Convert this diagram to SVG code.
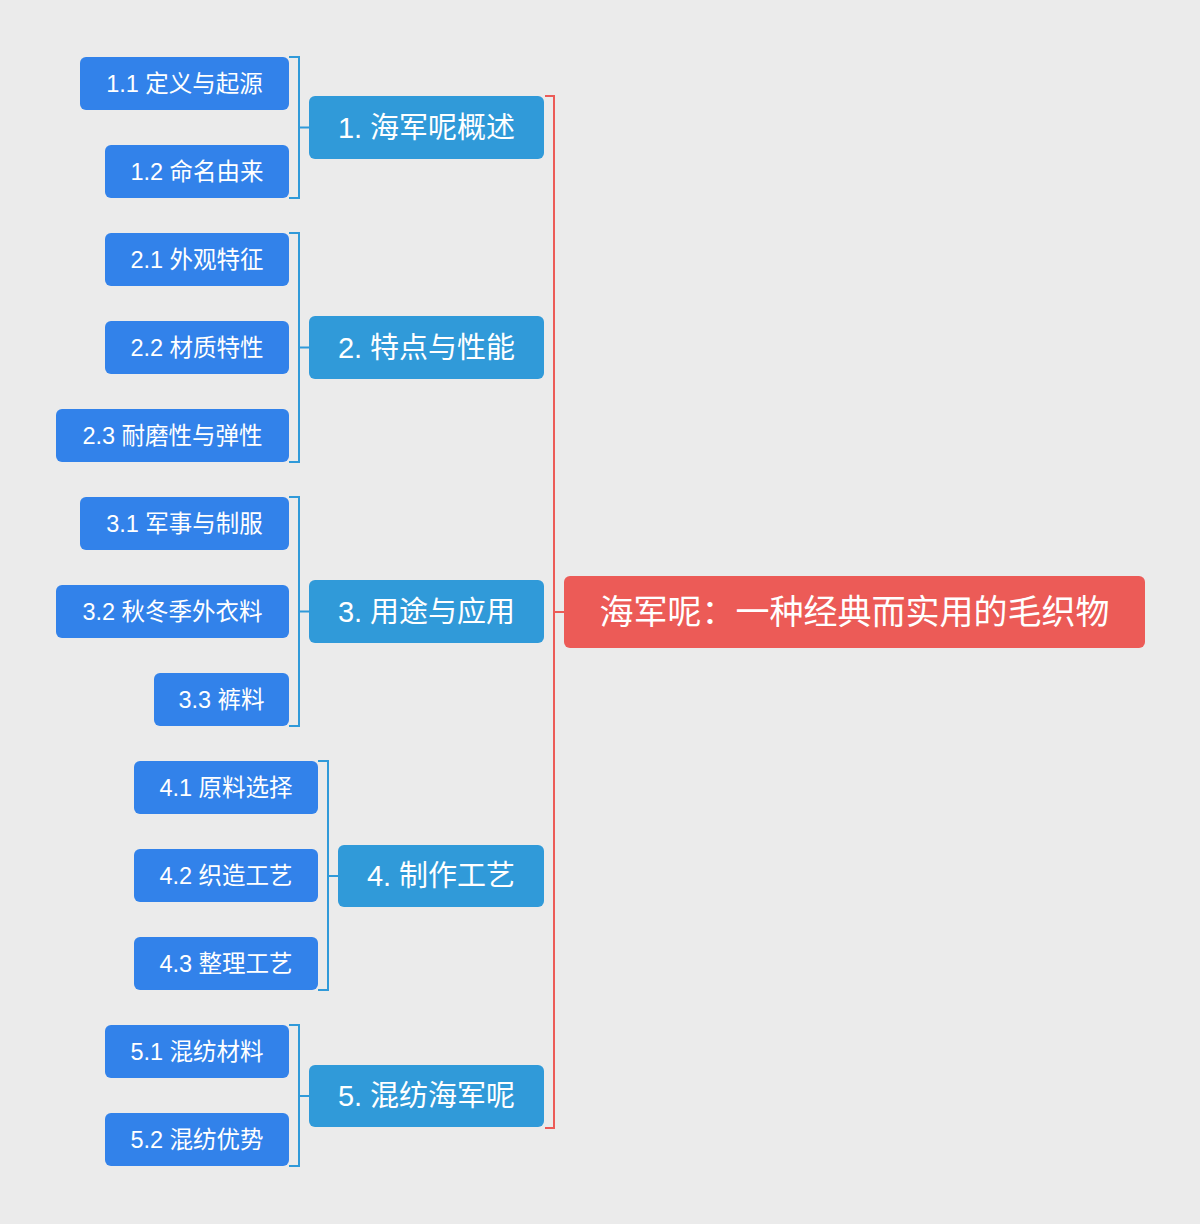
<svg xmlns="http://www.w3.org/2000/svg" width="1200" height="1224" viewBox="0 0 1200 1224">
<style>
.leaf rect{fill:#3282EA}
.l1 rect{fill:#309AD9}
.root rect{fill:#EC5B57}
text{font-family:"Liberation Sans","Noto Sans CJK SC",sans-serif;fill:#fff;text-anchor:middle;dominant-baseline:central}
.leaf text{font-size:23.5px}
.l1 text{font-size:29px}
.root text{font-size:34px}
.cb{fill:none;stroke:#309AD9;stroke-width:2}
.cr{fill:none;stroke:#EC5B57;stroke-width:2}
</style>
<rect width="1200" height="1224" fill="#EBEBEB"/>
<g id="connectors">
<path class="cr" d="M545,96H554V1128H545M554,612H564"/>
<path class="cb" d="M289,57H299V198H289M299,127.5H309"/>
<path class="cb" d="M289,233H299V462H289M299,347.5H309"/>
<path class="cb" d="M289,497H299V726H289M299,611.5H309"/>
<path class="cb" d="M318,761H328V990H318M328,876H338"/>
<path class="cb" d="M289,1025H299V1166H289M299,1096H309"/>
</g>
<g id="root" class="root"><rect x="564" y="576" width="581" height="72" rx="6"/><text x="854.5" y="612">海军呢：一种经典而实用的毛织物</text></g>
<g id="n1" class="l1"><rect x="309" y="96" width="235" height="63" rx="6"/><text x="426.5" y="127.5">1. 海军呢概述</text></g>
<g id="n2" class="l1"><rect x="309" y="316" width="235" height="63" rx="6"/><text x="426.5" y="347.5">2. 特点与性能</text></g>
<g id="n3" class="l1"><rect x="309" y="580" width="235" height="63" rx="6"/><text x="426.5" y="611.5">3. 用途与应用</text></g>
<g id="n4" class="l1"><rect x="338" y="845" width="206" height="62" rx="6"/><text x="441" y="876">4. 制作工艺</text></g>
<g id="n5" class="l1"><rect x="309" y="1065" width="235" height="62" rx="6"/><text x="426.5" y="1096">5. 混纺海军呢</text></g>
<g id="n11" class="leaf"><rect x="80" y="57" width="209" height="53" rx="6"/><text x="184.5" y="83.5">1.1 定义与起源</text></g>
<g id="n12" class="leaf"><rect x="105" y="145" width="184" height="53" rx="6"/><text x="197" y="171.5">1.2 命名由来</text></g>
<g id="n21" class="leaf"><rect x="105" y="233" width="184" height="53" rx="6"/><text x="197" y="259.5">2.1 外观特征</text></g>
<g id="n22" class="leaf"><rect x="105" y="321" width="184" height="53" rx="6"/><text x="197" y="347.5">2.2 材质特性</text></g>
<g id="n23" class="leaf"><rect x="56" y="409" width="233" height="53" rx="6"/><text x="172.5" y="435.5">2.3 耐磨性与弹性</text></g>
<g id="n31" class="leaf"><rect x="80" y="497" width="209" height="53" rx="6"/><text x="184.5" y="523.5">3.1 军事与制服</text></g>
<g id="n32" class="leaf"><rect x="56" y="585" width="233" height="53" rx="6"/><text x="172.5" y="611.5">3.2 秋冬季外衣料</text></g>
<g id="n33" class="leaf"><rect x="154" y="673" width="135" height="53" rx="6"/><text x="221.5" y="699.5">3.3 裤料</text></g>
<g id="n41" class="leaf"><rect x="134" y="761" width="184" height="53" rx="6"/><text x="226" y="787.5">4.1 原料选择</text></g>
<g id="n42" class="leaf"><rect x="134" y="849" width="184" height="53" rx="6"/><text x="226" y="875.5">4.2 织造工艺</text></g>
<g id="n43" class="leaf"><rect x="134" y="937" width="184" height="53" rx="6"/><text x="226" y="963.5">4.3 整理工艺</text></g>
<g id="n51" class="leaf"><rect x="105" y="1025" width="184" height="53" rx="6"/><text x="197" y="1051.5">5.1 混纺材料</text></g>
<g id="n52" class="leaf"><rect x="105" y="1113" width="184" height="53" rx="6"/><text x="197" y="1139.5">5.2 混纺优势</text></g>
</svg>
